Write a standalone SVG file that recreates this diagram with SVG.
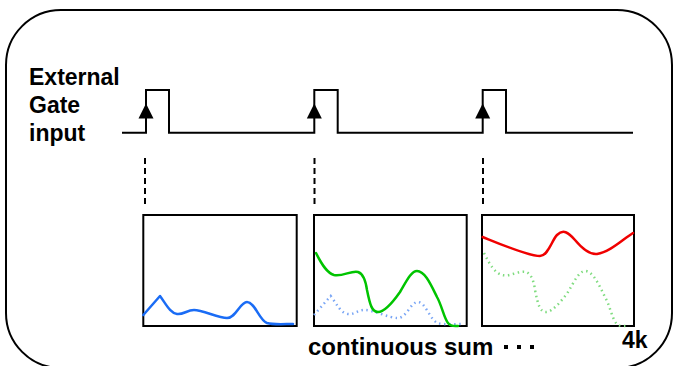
<svg xmlns="http://www.w3.org/2000/svg" width="677" height="366" viewBox="0 0 677 366">
<style>
.lbl{font-family:"Liberation Sans",Arial,sans-serif;font-weight:bold;font-size:23px;fill:#000}
.cap{font-size:24px}
.box{fill:#fff;stroke:#000;stroke-width:2}
.sig{fill:none;stroke:#000;stroke-width:2}
.dash{stroke:#000;stroke-width:2;stroke-dasharray:6 4}
.curve{fill:none;stroke-width:2.5;stroke-linecap:round;stroke-linejoin:round}
.dot{fill:none;stroke-width:2.5;stroke-dasharray:1.5 3.5}
</style>
<defs>
<path id="bluePath" d="M143.3,315 L160,296 C166,304 170,313 177,314 C183,315 187,310 194,310 C203,310 218,318 227,318 C236,318 240,302 247,302 C255,302 259,320 267,323 C273,325 285,324 293,324"/>
<path id="greenPath" d="M316,253 C322,265 327,273 334,275 C342,277 352,270 358,272 C364,274 366,283 367,290 C370,305 372,312 378,312 C384,312 393,302 400,292 C406,282 411,271 417,271 C425,271 431,285 437,297 C442,306 444,318 448,323 C451,327 455,326 458,326"/>
</defs>
<rect x="6" y="10" width="666" height="358" rx="55" ry="55" fill="#fff" stroke="#000" stroke-width="2"/>
<g id="gate-label">
<text class="lbl" x="29" y="85">External</text>
<text class="lbl" x="29" y="113">Gate</text>
<text class="lbl" x="29" y="141">input</text>
</g>
<g id="gate-signal">
<path class="sig" d="M122,132.7 H146 V90 H169 V132.7 H314.3 V90 H337.7 V132.7 H482.7 V90 H506 V132.7 H633"/>
<polygon points="138.5,118.5 153.5,118.5 146,103.5" fill="#000"/>
<polygon points="306.8,118.5 321.8,118.5 314.3,103.5" fill="#000"/>
<polygon points="475.2,118.5 490.2,118.5 482.7,103.5" fill="#000"/>
</g>
<g id="connectors">
<line class="dash" x1="145" y1="158" x2="145" y2="206"/>
<line class="dash" x1="314.5" y1="158" x2="314.5" y2="206"/>
<line class="dash" x1="483" y1="158" x2="483" y2="206"/>
</g>
<g id="box1">
<rect class="box" x="143.3" y="215" width="153.4" height="111"/>
<use href="#bluePath" class="curve" stroke="#1a6cf5"/>
</g>
<g id="box2">
<rect class="box" x="314" y="215" width="152.7" height="111"/>
<use href="#bluePath" class="dot" stroke="#7aa6f5" transform="translate(170.7,0)"/>
<use href="#greenPath" class="curve" stroke="#00c400"/>
</g>
<g id="box3">
<rect class="box" x="482" y="215" width="152" height="111"/>
<use href="#greenPath" class="dot" stroke="#80dc80" transform="translate(168,0)"/>
<path class="curve" stroke="#f00000" d="M482.7,237 C500,244 528,256 540,256 C548,256 552,240 557,235 C563,229 568,232 575,240 C580,246 588,255 597,254 C610,252 622,240 633,233"/>
</g>
<g id="caption">
<text class="lbl cap" x="308" y="355">continuous sum</text>
<rect x="504" y="345" width="4" height="4" fill="#000"/>
<rect x="517" y="345" width="4" height="4" fill="#000"/>
<rect x="530" y="345" width="4" height="4" fill="#000"/>
<text class="lbl" x="622" y="348">4k</text>
</g>
</svg>
